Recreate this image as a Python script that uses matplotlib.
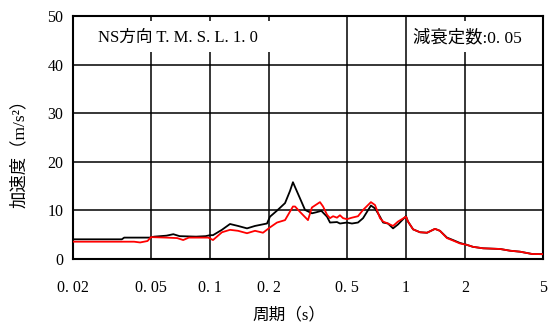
import matplotlib
matplotlib.use("Agg")
import matplotlib.pyplot as plt
from matplotlib.patches import Rectangle

plt.rcParams['font.family'] = ['Liberation Serif', 'Noto Sans CJK JP', 'DejaVu Sans']

# black curve
period_k = [0.02, 0.0355, 0.0365, 0.049, 0.052, 0.060, 0.065, 0.070, 0.085, 0.095,
            0.100, 0.1036, 0.115, 0.1265, 0.139, 0.1545, 0.1697, 0.1954, 0.2023,
            0.2197, 0.2415, 0.256, 0.265, 0.2716, 0.2877, 0.3054, 0.3311, 0.3475,
            0.37, 0.3955, 0.4096, 0.4446, 0.4604, 0.50, 0.53, 0.569, 0.604, 0.6325,
            0.6625, 0.695, 0.737, 0.764, 0.809, 0.859, 0.91, 1.0,
            1.024, 1.087, 1.179, 1.28, 1.406, 1.49, 1.618, 1.737, 1.884, 2.047,
            2.197, 2.473, 3.02, 3.40, 3.82, 4.40, 5.0]
acc_k = [4.05, 4.05, 4.4, 4.4, 4.6, 4.8, 5.1, 4.7, 4.6, 4.7,
         4.9, 4.9, 6.0, 7.2, 6.8, 6.3, 6.8, 7.3, 8.7,
         9.95, 11.5, 14.0, 15.8, 14.8, 12.5, 10.1, 9.4, 9.6,
         9.9, 8.7, 7.5, 7.6, 7.3, 7.5, 7.3, 7.5, 8.4, 9.7,
         11.0, 10.4, 8.7, 7.5, 7.3, 6.3, 7.1, 8.8,
         7.7, 6.1, 5.5, 5.4, 6.2, 5.8, 4.4, 3.9, 3.3, 2.9,
         2.5, 2.2, 2.06, 1.7, 1.5, 1.03, 0.99]

# red curve
period_r = [0.02, 0.041, 0.044, 0.048, 0.050, 0.060, 0.068, 0.073, 0.078, 0.098,
            0.1036, 0.1151, 0.1265, 0.139, 0.1545, 0.1697, 0.1864, 0.2023, 0.2197,
            0.2415, 0.265, 0.2716, 0.2877, 0.3162, 0.3311, 0.364, 0.3775, 0.3955,
            0.4096, 0.4246, 0.4446, 0.4604, 0.4775, 0.50, 0.53, 0.569, 0.604, 0.6625,
            0.695, 0.737, 0.764, 0.809, 0.859, 0.91, 1.0,
            1.024, 1.087, 1.179, 1.28, 1.406, 1.49, 1.618, 1.737, 1.884, 2.047,
            2.197, 2.473, 3.02, 3.40, 3.82, 4.40, 5.0]
acc_r = [3.56, 3.56, 3.4, 3.7, 4.5, 4.4, 4.3, 3.9, 4.4, 4.4,
         3.9, 5.5, 6.0, 5.8, 5.3, 5.8, 5.4, 6.5, 7.5,
         8.0, 10.8, 10.8, 9.7, 8.0, 10.6, 11.7, 10.8, 9.1,
         8.4, 8.8, 8.5, 9.0, 8.4, 8.2, 8.5, 8.8, 10.1, 11.7,
         11.1, 8.4, 7.7, 7.3, 6.8, 7.7, 8.7,
         7.7, 6.1, 5.5, 5.4, 6.2, 5.8, 4.3, 3.8, 3.2, 2.9,
         2.5, 2.2, 2.06, 1.7, 1.5, 1.03, 0.99]

xticks = [0.02, 0.05, 0.1, 0.2, 0.5, 1, 2, 5]
xtick_labels = ["0. 02", "0. 05", "0. 1", "0. 2", "0. 5", "1", "2", "5"]
yticks = [0, 10, 20, 30, 40, 50]

fig = plt.figure(figsize=(5.58, 3.29), dpi=100)
ax = fig.add_axes([0.1308, 0.2128, 0.8423, 0.7386])

ax.plot(period_k, acc_k, color='black', lw=1.3, zorder=3)
ax.plot(period_r, acc_r, color='#ff0000', lw=1.3, zorder=4)

ax.set_xscale('log')
ax.set_xlim(0.02, 5)
ax.set_ylim(0, 50)
ax.set_xticks(xticks)
ax.set_xticklabels(xtick_labels)
ax.minorticks_off()
ax.set_yticks(yticks)
ax.tick_params(length=0, labelsize=11.5)
ax.tick_params(axis='x', pad=15)
ax.tick_params(axis='y', pad=7)
ax.grid(True, color='black', lw=1.1)
for s in ax.spines.values():
    s.set_linewidth(1.5)

# white boxes behind the captions
ax.add_patch(Rectangle((0.0202, 42.6), 0.4 - 0.0202, 6.3, facecolor='white',
                       edgecolor='none', zorder=2))
ax.add_patch(Rectangle((1.03, 42.6), 4.95 - 1.03, 6.3, facecolor='white',
                       edgecolor='none', zorder=2))
ax.text(0.0268, 45.5, "NS方向 T. M. S. L. 1. 0", fontsize=12, va='center', zorder=5)
ax.text(1.09, 45.5, "減衰定数:0. 05", fontsize=12.5, va='center', zorder=5)

ax.set_xlabel("周期（s）", fontsize=12)
ax.xaxis.set_label_coords(0.46, -0.2)
ax.set_ylabel("加速度（m/s²）", fontsize=12.5)
ax.yaxis.set_label_coords(-0.095, 0.45)

fig.savefig("out.png", dpi=100)
